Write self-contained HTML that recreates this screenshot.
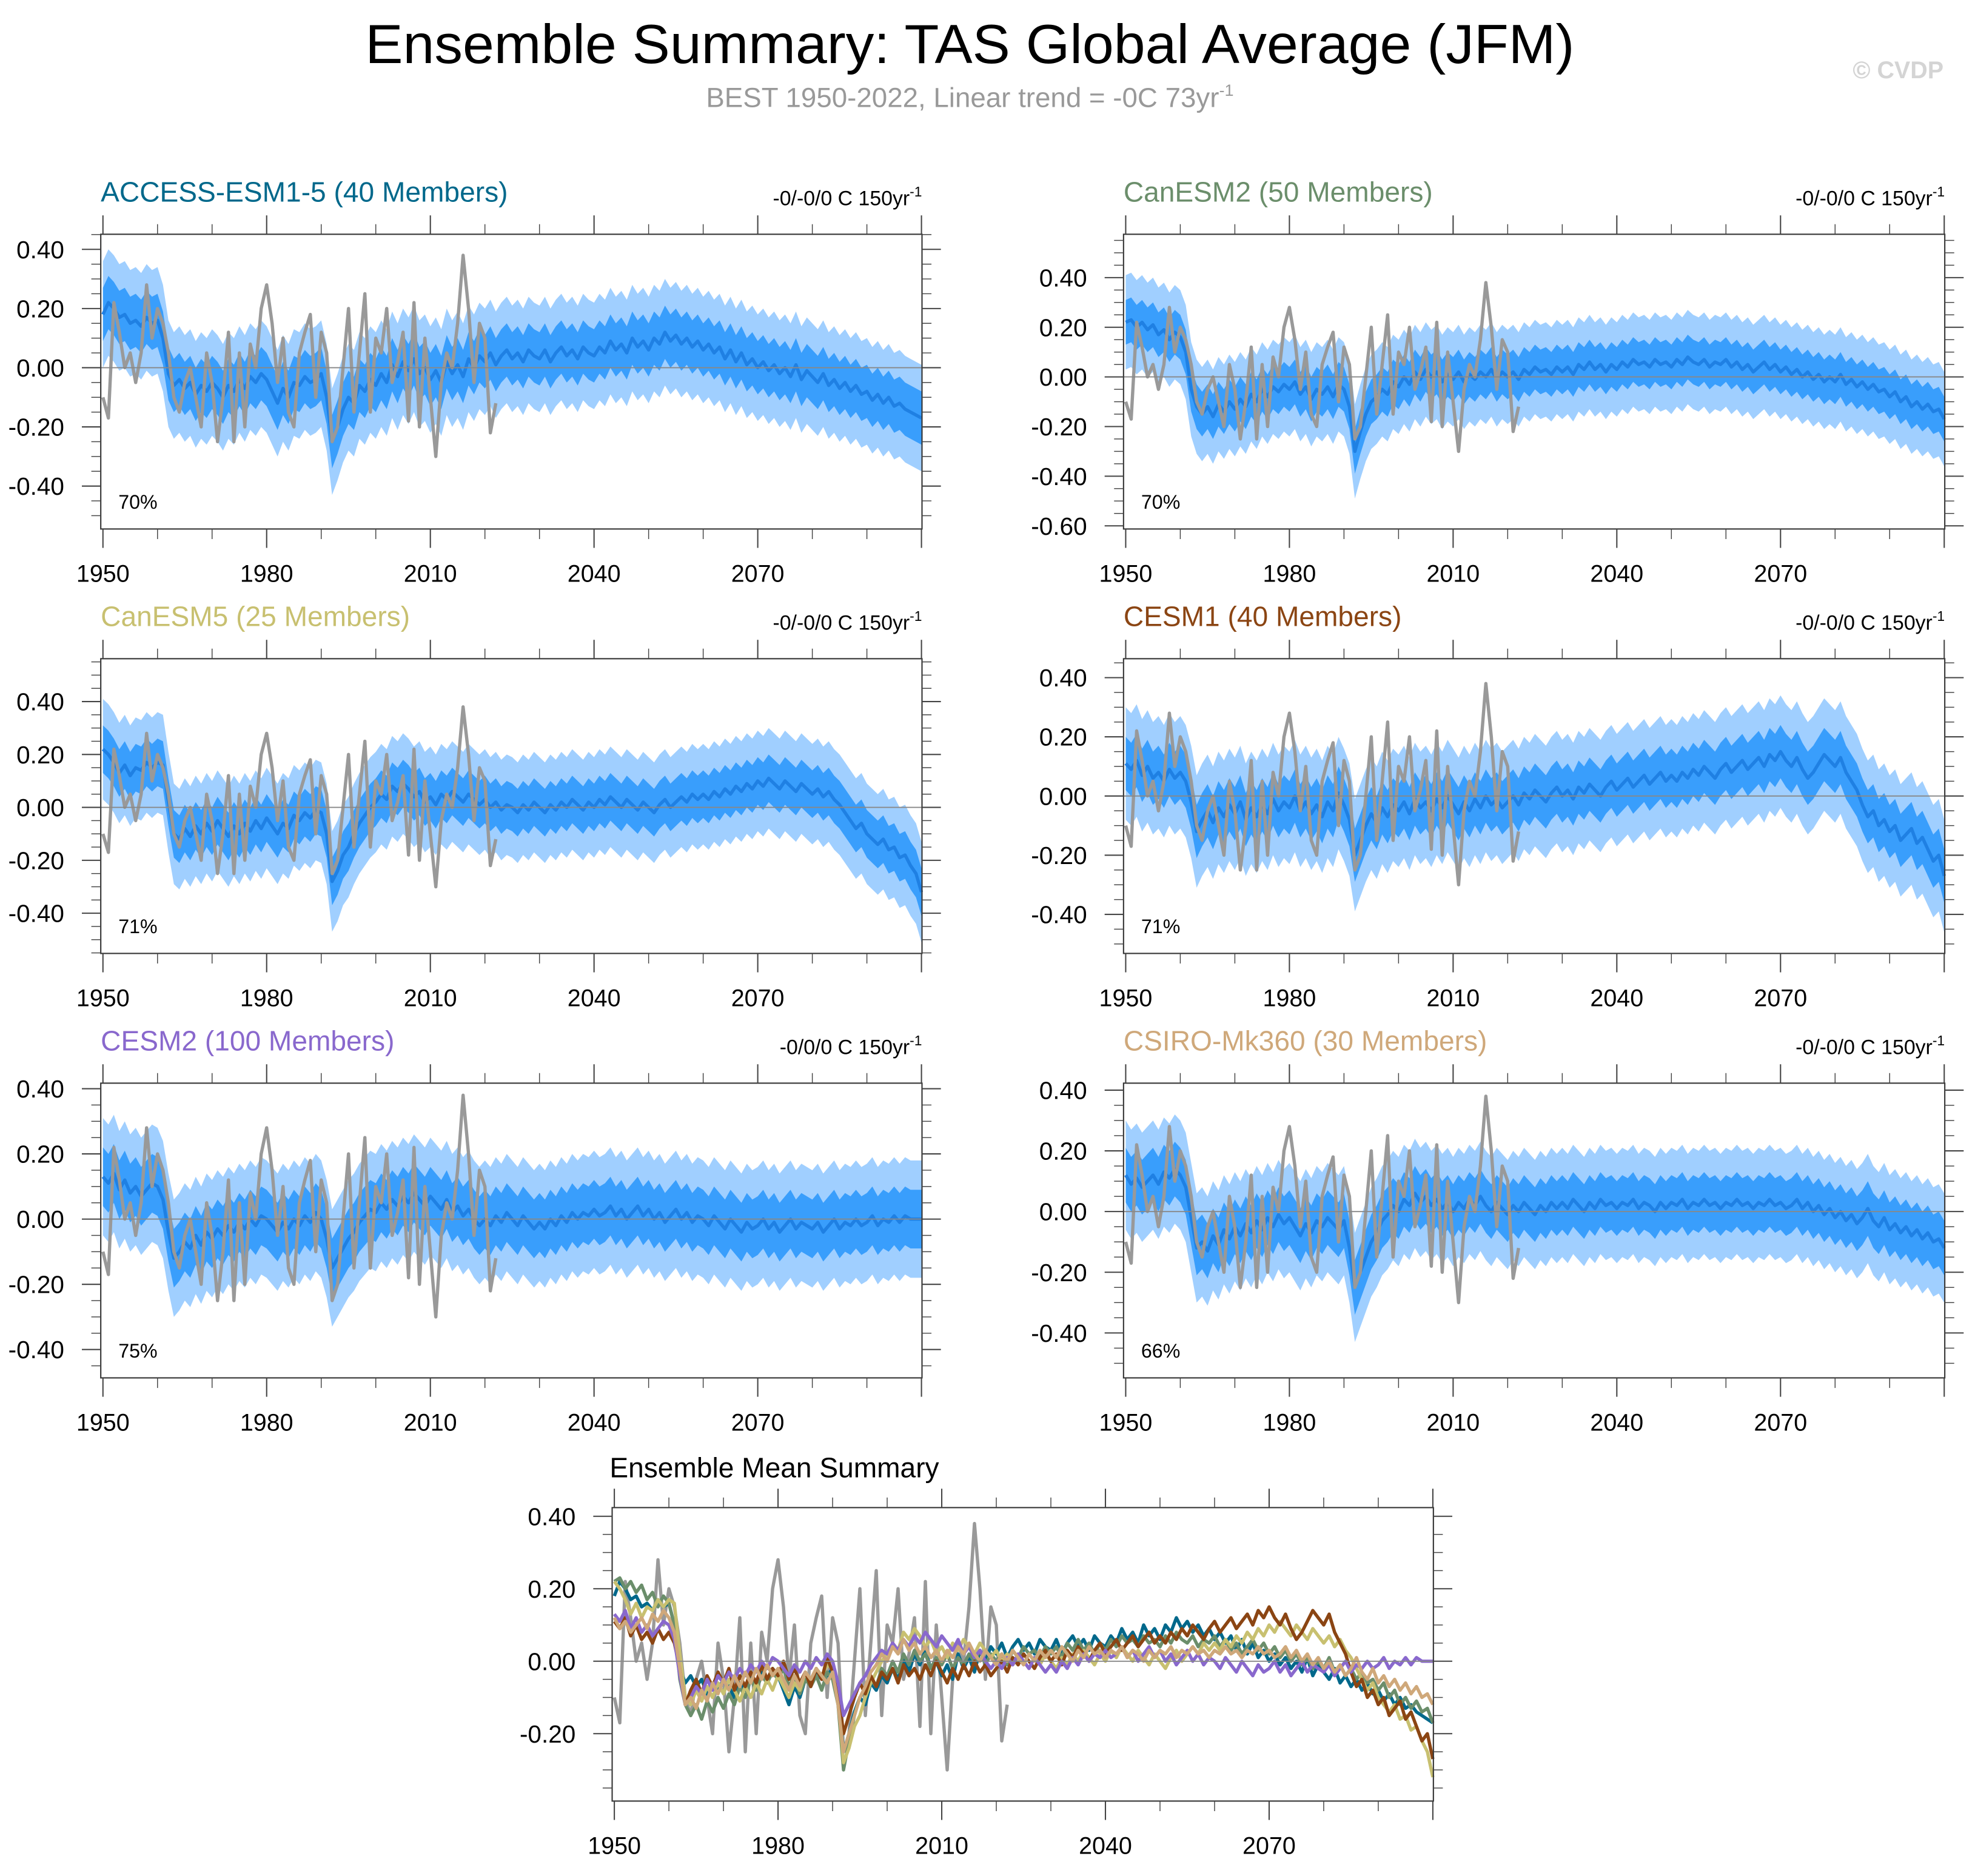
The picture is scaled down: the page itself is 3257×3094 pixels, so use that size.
<!DOCTYPE html>
<html><head><meta charset="utf-8"><title>Ensemble Summary: TAS Global Average (JFM)</title>
<style>html,body{margin:0;padding:0;background:#fff}svg{display:block}text{font-family:"Liberation Sans",Arial,sans-serif}</style>
</head><body>
<svg id="chart" xmlns="http://www.w3.org/2000/svg" width="3257" height="3094" viewBox="0 0 1568 1489.5" preserveAspectRatio="none">
<text x="770" y="50" font-size="44" text-anchor="middle" textLength="960" lengthAdjust="spacingAndGlyphs">Ensemble Summary: TAS Global Average (JFM)</text>
<text x="770" y="85" font-size="22" fill="#999" text-anchor="middle">BEST 1950-2022, Linear trend = -0C 73yr<tspan font-size="13" dy="-9">-1</tspan></text>
<text x="1543" y="62" font-size="19" font-weight="bold" fill="#d4d4d4" text-anchor="end">© CVDP</text>
<g id="plots"></g>
</svg>
<script>
const years = Array.from({length:151},(_, i)=>1950+i);
const obsYears = Array.from({length:73},(_, i)=>1950+i);
const obsBEST = [-0.10,-0.17,0.22,0.12,0.00,0.05,-0.05,0.05,0.28,0.10,0.20,0.15,0.05,-0.10,-0.15,-0.05,0.00,-0.10,-0.20,0.05,-0.05,-0.25,-0.10,0.12,-0.25,0.05,-0.20,0.08,0.00,0.20,0.28,0.15,-0.05,0.10,-0.15,-0.20,0.05,0.12,0.18,-0.10,0.12,0.05,-0.25,-0.20,0.00,0.20,-0.15,0.05,0.25,-0.15,0.10,0.05,0.20,-0.05,0.02,0.12,-0.18,0.22,-0.20,0.10,-0.10,-0.30,-0.05,0.05,0.00,0.15,0.38,0.20,-0.05,0.15,0.10,-0.22,-0.12];
const meanACCESS = [0.18,0.22,0.20,0.17,0.18,0.15,0.16,0.14,0.17,0.15,0.16,0.10,-0.02,-0.06,-0.04,-0.07,-0.05,-0.09,-0.06,-0.08,-0.05,-0.07,-0.10,-0.06,-0.08,-0.04,-0.07,-0.03,-0.05,-0.02,-0.04,-0.08,-0.12,-0.07,-0.10,-0.05,-0.06,-0.03,-0.05,-0.04,-0.02,-0.10,-0.25,-0.20,-0.14,-0.10,-0.12,-0.06,-0.08,-0.04,-0.06,-0.02,-0.05,0.01,-0.03,0.02,-0.01,0.03,-0.02,0.00,-0.04,-0.01,-0.05,0.02,-0.02,0.01,-0.03,0.03,0.00,0.04,0.02,0.05,0.01,0.04,0.06,0.03,0.05,0.02,0.06,0.04,0.03,0.06,0.02,0.05,0.07,0.04,0.06,0.03,0.07,0.05,0.04,0.07,0.05,0.09,0.06,0.08,0.05,0.10,0.07,0.09,0.06,0.10,0.08,0.12,0.09,0.11,0.08,0.10,0.07,0.09,0.06,0.08,0.05,0.07,0.03,0.06,0.02,0.05,0.01,0.03,0.00,0.02,-0.01,0.01,-0.02,0.00,-0.03,0.01,-0.04,-0.01,-0.03,-0.05,-0.02,-0.06,-0.04,-0.07,-0.05,-0.08,-0.06,-0.09,-0.08,-0.11,-0.09,-0.12,-0.10,-0.13,-0.12,-0.14,-0.15,-0.16,-0.17];
const meanCanESM2 = [0.22,0.23,0.20,0.22,0.19,0.21,0.17,0.19,0.15,0.18,0.16,0.10,-0.05,-0.12,-0.15,-0.12,-0.16,-0.11,-0.14,-0.10,-0.13,-0.09,-0.12,-0.07,-0.10,-0.05,-0.08,-0.04,-0.06,-0.03,-0.05,-0.02,-0.07,-0.04,-0.09,-0.05,-0.07,-0.04,-0.08,-0.03,-0.05,-0.12,-0.30,-0.22,-0.15,-0.10,-0.08,-0.05,-0.07,-0.02,-0.04,0.00,-0.03,0.02,-0.01,0.03,0.00,0.02,-0.02,0.01,-0.01,0.02,-0.02,0.01,-0.01,0.02,0.00,0.03,-0.01,0.02,0.00,0.02,-0.01,0.03,0.01,0.04,0.02,0.03,0.01,0.04,0.02,0.04,0.01,0.05,0.03,0.06,0.03,0.05,0.02,0.05,0.03,0.06,0.04,0.07,0.05,0.06,0.04,0.07,0.05,0.06,0.04,0.07,0.05,0.08,0.06,0.05,0.07,0.04,0.06,0.05,0.07,0.04,0.06,0.03,0.05,0.02,0.04,0.06,0.03,0.05,0.02,0.04,0.01,0.03,0.00,0.02,-0.01,0.01,-0.02,0.00,-0.02,0.01,-0.03,-0.01,-0.04,-0.02,-0.05,-0.03,-0.06,-0.05,-0.08,-0.06,-0.10,-0.08,-0.12,-0.10,-0.13,-0.11,-0.14,-0.13,-0.17];
const meanCanESM5 = [0.22,0.20,0.17,0.13,0.16,0.12,0.15,0.14,0.17,0.15,0.17,0.16,0.02,-0.10,-0.12,-0.08,-0.11,-0.07,-0.10,-0.06,-0.09,-0.05,-0.08,-0.11,-0.07,-0.10,-0.06,-0.09,-0.05,-0.08,-0.04,-0.07,-0.10,-0.06,-0.08,-0.03,-0.05,-0.02,-0.04,-0.01,-0.02,-0.10,-0.28,-0.24,-0.18,-0.15,-0.10,-0.06,-0.03,0.00,0.02,0.05,0.03,0.08,0.06,0.09,0.07,0.04,0.06,0.02,0.04,0.01,0.05,0.03,0.06,0.04,0.02,0.05,0.03,0.01,0.03,0.00,0.02,-0.01,0.01,0.00,-0.02,0.01,-0.01,0.02,0.00,-0.02,0.01,-0.01,0.02,0.00,0.03,0.01,-0.01,0.02,0.00,0.03,0.01,0.04,0.02,0.00,0.03,0.01,-0.01,0.02,0.00,-0.02,0.01,0.03,0.00,0.02,0.04,0.02,0.05,0.03,0.05,0.03,0.06,0.04,0.07,0.05,0.08,0.06,0.09,0.07,0.10,0.08,0.11,0.09,0.07,0.10,0.08,0.06,0.09,0.07,0.05,0.07,0.04,0.06,0.03,0.01,-0.02,-0.05,-0.08,-0.06,-0.10,-0.12,-0.14,-0.12,-0.16,-0.15,-0.19,-0.18,-0.22,-0.25,-0.32];
const meanCESM1 = [0.11,0.09,0.12,0.07,0.10,0.06,0.08,0.05,0.09,0.06,0.08,0.05,-0.02,-0.12,-0.08,-0.05,-0.09,-0.04,-0.07,-0.03,-0.06,-0.02,-0.08,-0.04,-0.07,-0.03,-0.06,-0.01,-0.05,-0.02,-0.04,0.00,-0.05,-0.02,-0.06,-0.03,-0.07,-0.02,-0.05,0.01,-0.03,-0.08,-0.20,-0.15,-0.10,-0.06,-0.09,-0.04,-0.07,-0.03,-0.05,-0.02,-0.06,-0.01,-0.04,-0.02,-0.05,-0.01,-0.04,0.00,-0.03,-0.06,-0.02,-0.05,-0.01,-0.04,0.00,-0.03,-0.01,-0.04,-0.02,0.00,-0.03,0.01,-0.01,0.02,0.00,-0.02,0.01,0.03,0.00,0.02,-0.01,0.03,0.01,0.04,0.02,0.00,0.03,0.05,0.02,0.04,0.06,0.03,0.05,0.07,0.04,0.06,0.08,0.05,0.07,0.05,0.08,0.06,0.09,0.07,0.10,0.08,0.06,0.09,0.11,0.08,0.10,0.12,0.09,0.11,0.13,0.10,0.14,0.12,0.15,0.12,0.10,0.13,0.09,0.06,0.08,0.11,0.14,0.12,0.10,0.13,0.08,0.05,0.02,-0.03,-0.07,-0.05,-0.10,-0.08,-0.12,-0.10,-0.15,-0.13,-0.11,-0.16,-0.14,-0.18,-0.22,-0.20,-0.27];
const meanCESM2 = [0.13,0.11,0.14,0.09,0.12,0.08,0.10,0.07,0.09,0.11,0.10,0.06,-0.04,-0.12,-0.10,-0.07,-0.09,-0.05,-0.08,-0.04,-0.06,-0.03,-0.05,-0.02,-0.04,-0.01,-0.03,0.00,-0.02,0.01,0.00,-0.02,-0.04,-0.01,-0.03,0.00,-0.02,0.01,-0.01,0.02,0.00,-0.06,-0.15,-0.12,-0.09,-0.06,-0.04,-0.01,0.01,0.03,0.02,0.05,0.03,0.06,0.04,0.07,0.05,0.08,0.06,0.04,0.07,0.05,0.03,0.06,0.02,0.04,0.01,0.03,0.00,-0.02,0.00,-0.02,0.01,-0.01,0.02,0.00,-0.02,0.01,-0.01,-0.03,-0.01,-0.03,0.00,-0.02,0.01,-0.01,0.02,0.00,0.02,0.01,0.03,0.01,0.02,0.04,0.01,0.03,0.00,0.02,0.04,0.01,0.03,0.00,0.02,-0.01,0.01,0.03,0.00,0.02,-0.01,0.01,0.00,-0.02,0.01,-0.01,-0.03,0.00,-0.02,-0.04,-0.01,-0.03,-0.02,0.00,-0.03,-0.01,-0.04,-0.02,0.00,-0.03,-0.01,-0.02,-0.03,-0.01,-0.04,-0.02,0.00,-0.03,-0.01,-0.02,0.00,-0.02,-0.01,0.01,-0.02,0.00,-0.01,0.01,-0.01,0.01,0.00,0.00,0.00];
const meanCSIRO = [0.12,0.09,0.11,0.08,0.10,0.12,0.09,0.13,0.11,0.14,0.12,0.08,-0.02,-0.12,-0.10,-0.13,-0.08,-0.11,-0.06,-0.09,-0.05,-0.08,-0.04,-0.07,-0.03,-0.06,-0.02,-0.05,-0.01,-0.04,-0.02,-0.05,-0.08,-0.04,-0.07,-0.03,-0.05,-0.02,-0.04,-0.06,-0.03,-0.12,-0.25,-0.20,-0.15,-0.10,-0.07,-0.03,-0.01,0.02,0.00,0.04,0.02,0.06,0.03,0.05,0.02,0.04,0.01,0.03,0.00,0.03,0.01,0.04,0.02,0.05,0.02,0.00,0.03,0.01,-0.01,0.02,0.00,0.03,0.01,-0.01,0.02,0.00,0.03,0.01,0.03,0.01,0.04,0.02,0.00,0.03,0.01,0.04,0.02,0.03,0.01,0.03,0.02,0.04,0.01,0.03,0.02,0.00,0.03,0.01,0.03,0.02,0.04,0.01,0.03,0.02,0.04,0.02,0.03,0.01,0.03,0.02,0.04,0.02,0.03,0.01,0.03,0.02,0.04,0.02,0.03,0.01,0.02,0.04,0.01,0.03,0.00,0.02,-0.01,0.01,-0.02,0.00,-0.03,-0.01,-0.04,-0.02,0.01,-0.03,-0.05,-0.02,-0.06,-0.04,-0.07,-0.05,-0.08,-0.06,-0.09,-0.07,-0.10,-0.09,-0.12];
const modelNames = ["ACCESS-ESM1-5 (40 Members)","CanESM2 (50 Members)","CanESM5 (25 Members)","CESM1 (40 Members)","CESM2 (100 Members)","CSIRO-Mk360 (30 Members)"];
const modelColors = ["#00688b","#6b8e6b","#c8c070","#8b4513","#8968cd","#cfa87a"];
const innerHalfWidth = [0.09,0.09,0.09,0.09,0.09,0.09];
const outerHalfWidth = [0.18,0.19,0.19,0.19,0.18,0.18];
const percentLabels = ["70%","70%","71%","71%","75%","66%"];
const trendLabels = ["-0/-0/0 C 150yr","-0/-0/0 C 150yr","-0/-0/0 C 150yr","-0/-0/0 C 150yr","-0/0/0 C 150yr","-0/-0/0 C 150yr"];
const xTickLabels = [1950,1980,2010,2040,2070];
const panelYTicks = [[0.4,0.2,0,-0.2,-0.4],[0.4,0.2,0,-0.2,-0.4,-0.6],[0.4,0.2,0,-0.2,-0.4],[0.4,0.2,0,-0.2,-0.4],[0.4,0.2,0,-0.2,-0.4],[0.4,0.2,0,-0.2,-0.4]];
const summaryYTicks = [0.4,0.2,0,-0.2];
const means = [meanACCESS,meanCanESM2,meanCanESM5,meanCESM1,meanCESM2,meanCSIRO];

const boxes = [
 {x0:80,x1:732,y0:186,y1:420,ymin:-0.545,ymax:0.451},
 {x0:892,x1:1544,y0:186,y1:420,ymin:-0.6127,ymax:0.5747},
 {x0:80,x1:732,y0:523,y1:757,ymin:-0.552,ymax:0.562},
 {x0:892,x1:1544,y0:523,y1:757,ymin:-0.532,ymax:0.464},
 {x0:80,x1:732,y0:860,y1:1094,ymin:-0.487,ymax:0.417},
 {x0:892,x1:1544,y0:860,y1:1094,ymin:-0.548,ymax:0.423}];
const summaryBox = {x0:486,x1:1138,y0:1197,y1:1430,ymin:-0.386,ymax:0.424};
const NS="http://www.w3.org/2000/svg";
const root=document.getElementById('plots');
function el(tag,attrs,parent){const e=document.createElementNS(NS,tag);for(const k in attrs)e.setAttribute(k,attrs[k]);(parent||root).appendChild(e);return e;}
function scales(b){const xs=y=>b.x0+(y-1949.6)/(2100.1-1949.6)*(b.x1-b.x0);const ys=v=>b.y1-(v-b.ymin)/(b.ymax-b.ymin)*(b.y1-b.y0);return [xs,ys];}
function linePath(xs,ys,xv,yv){return xv.map((x,i)=>(i?'L':'M')+xs(x).toFixed(2)+','+ys(yv[i]).toFixed(2)).join('');}
function bandPath(xs,ys,xv,lo,hi){let d=xv.map((x,i)=>(i?'L':'M')+xs(x).toFixed(2)+','+ys(hi[i]).toFixed(2)).join('');for(let i=xv.length-1;i>=0;i--)d+='L'+xs(xv[i]).toFixed(2)+','+ys(lo[i]).toFixed(2);return d+'Z';}
function axes(g,b,xs,ys,yt){
  el('line',{x1:b.x0,x2:b.x1,y1:ys(0),y2:ys(0),stroke:'#888','stroke-width':0.9},g);
  el('rect',{x:b.x0,y:b.y0,width:b.x1-b.x0,height:b.y1-b.y0,fill:'none',stroke:'#333','stroke-width':1},g);
  for(let yr=1950;yr<=2100;yr+=10){const major=(yr-1950)%30===0;const L=major?15:8;const x=xs(yr);
    el('line',{x1:x,x2:x,y1:b.y1,y2:b.y1+L,stroke:'#444','stroke-width':major?1:0.7},g);
    el('line',{x1:x,x2:x,y1:b.y0,y2:b.y0-L,stroke:'#444','stroke-width':major?1:0.7},g);}
  const lo=Math.ceil(b.ymin/0.05-1e-6),hi=Math.floor(b.ymax/0.05+1e-6);
  for(let k=lo;k<=hi;k++){const v=k*0.05;const major=yt.some(t=>Math.abs(t-v)<1e-6);const L=major?15:7.5;const y=ys(v);
    el('line',{x1:b.x0-L,x2:b.x0,y1:y,y2:y,stroke:'#444','stroke-width':major?1:0.7},g);
    el('line',{x1:b.x1,x2:b.x1+L,y1:y,y2:y,stroke:'#444','stroke-width':major?1:0.7},g);}
  yt.forEach(v=>{const t=el('text',{x:b.x0-29,y:ys(v)+7,'font-size':19.5,'text-anchor':'end'},g);t.textContent=v.toFixed(2);
    
    });
  xTickLabels.forEach(yr=>{const t=el('text',{x:xs(yr),y:b.y1+42,'font-size':19,'text-anchor':'middle'},g);t.textContent=yr;
    
    });
}
boxes.forEach((b,m)=>{
  const g=el('g',{});
  
  
  const [xs,ys]=scales(b);const mean=means[m];
  const outer=el('path',{d:bandPath(xs,ys,years,mean.map(v=>v-outerHalfWidth[m]),mean.map(v=>v+outerHalfWidth[m])),fill:'#a0cfff',stroke:'none'},g);
  
  
  const inner=el('path',{d:bandPath(xs,ys,years,mean.map(v=>v-innerHalfWidth[m]),mean.map(v=>v+innerHalfWidth[m])),fill:'#399efc',stroke:'none'},g);
  
  
  const ml=el('path',{d:linePath(xs,ys,years,mean),fill:'none',stroke:'#1f80e3','stroke-width':2.6,'stroke-linejoin':'round'},g);
  
  
  const ol=el('path',{d:linePath(xs,ys,obsYears,obsBEST),fill:'none',stroke:'#999','stroke-width':2.6,'stroke-linejoin':'round'},g);
  
  
  axes(g,b,xs,ys,panelYTicks[m]);
  const t=el('text',{x:b.x0,y:b.y0-26,'font-size':22.2,fill:modelColors[m]},g);t.textContent=modelNames[m];
  
  
  const tr=el('text',{x:b.x1,y:b.y0-23,'font-size':16.3,'text-anchor':'end'},g);tr.textContent=trendLabels[m];
  const sup=el('tspan',{'font-size':11,dy:-7},tr);sup.textContent='-1';
  
  
  const p=el('text',{x:b.x0+14,y:b.y1-16,'font-size':15.5},g);p.textContent=percentLabels[m];
  
  
});
(function(){
  const b=summaryBox;const g=el('g',{});
  
  
  const [xs,ys]=scales(b);
  const ol=el('path',{d:linePath(xs,ys,obsYears,obsBEST),fill:'none',stroke:'#999','stroke-width':2.6,'stroke-linejoin':'round'},g);
  
  
  means.forEach((mean,m)=>{const l=el('path',{d:linePath(xs,ys,years,mean),fill:'none',stroke:modelColors[m],'stroke-width':2.6,'stroke-linejoin':'round'},g);
    
    });
  axes(g,b,xs,ys,summaryYTicks);
  const t=el('text',{x:484,y:1173,'font-size':22.2},g);t.textContent='Ensemble Mean Summary';
  
  
})();
</script>
</body></html>
